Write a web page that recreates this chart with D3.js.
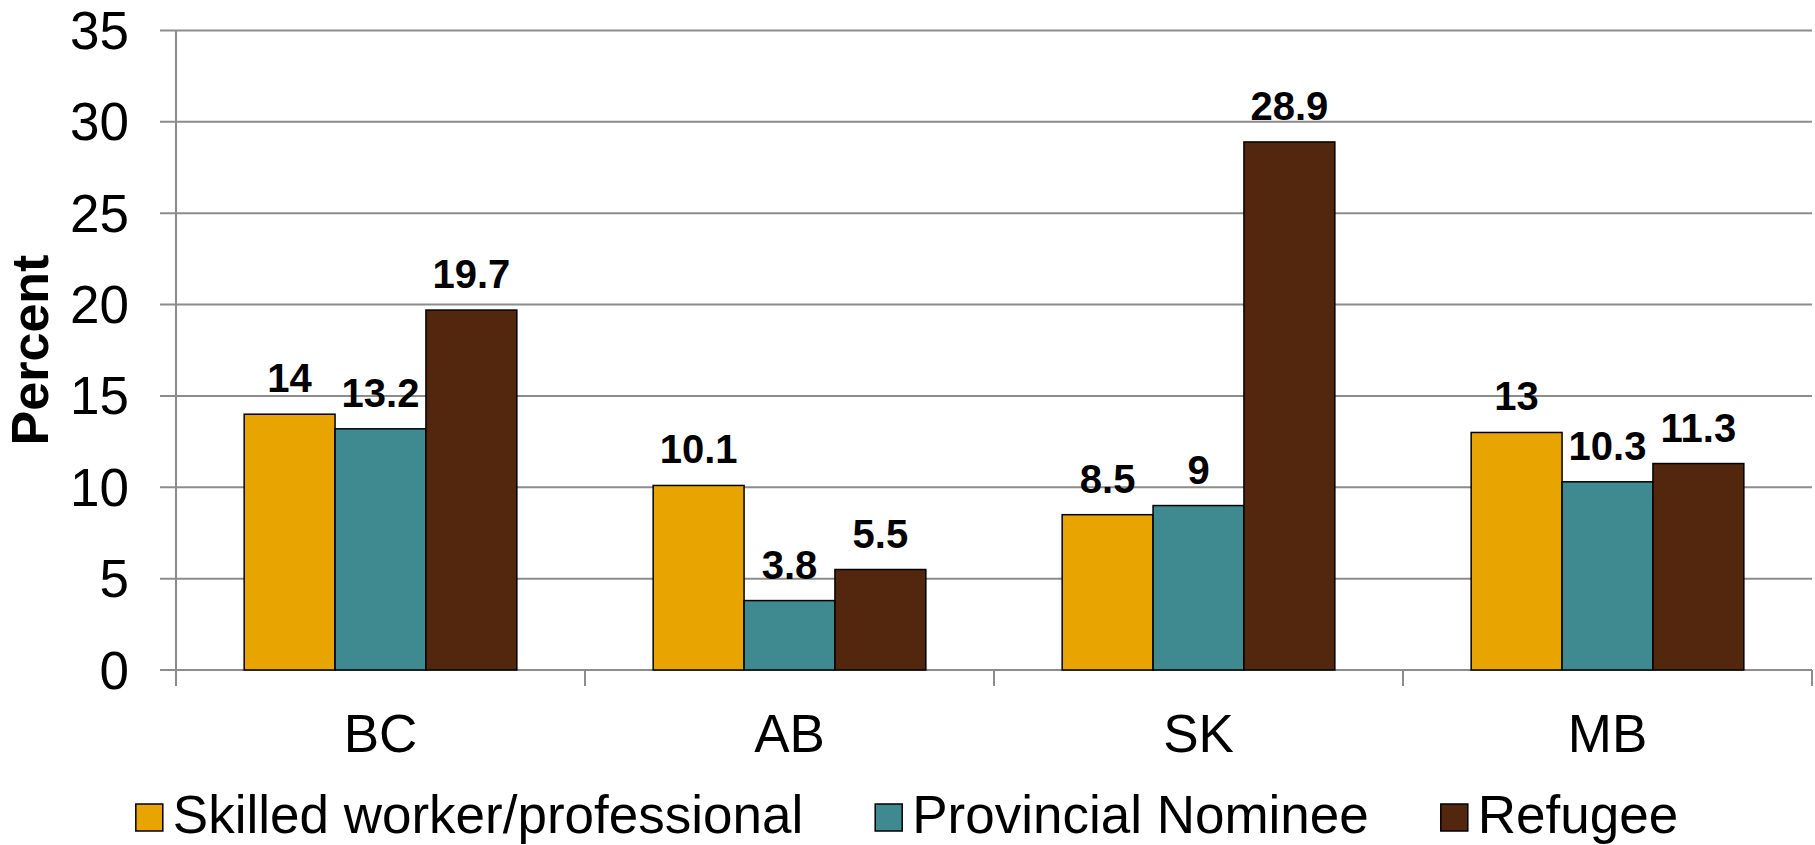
<!DOCTYPE html>
<html>
<head>
<meta charset="utf-8">
<title>Percent by province</title>
<script src="https://d3js.org/d3.v7.min.js"></script>
<style>
  body { margin: 0; background: #fff; }
  svg { display: block; font-family: "Liberation Sans", Arial, sans-serif; }
  .grid line { stroke: #8c8c8c; stroke-width: 2; }
  .bar { stroke: #000; stroke-width: 1.5; }
</style>
</head>
<body>
<script>
// data
var provinces = ["BC", "AB", "SK", "MB"];
var seriesNames = ["Skilled worker/professional", "Provincial Nominee", "Refugee"];
var skilled = [14, 10.1, 8.5, 13];
var nominee = [13.2, 3.8, 9, 10.3];
var refugee = [19.7, 5.5, 28.9, 11.3];
var yTicks = [0, 5, 10, 15, 20, 25, 30, 35];
var colors = ["#e8a400", "#3e8a90", "#52270e"];

var seriesValues = [skilled, nominee, refugee];

var W = 1815, H = 845;
var plotL = 176, plotR = 1812, plotT = 30.5, plotB = 670;

var svg = d3.select("body").append("svg")
  .attr("width", W)
  .attr("height", H);

var y = d3.scaleLinear().domain([0, 35]).range([plotB, plotT]);
var x = d3.scaleBand().domain(provinces).range([plotL, plotR]).paddingInner(0).paddingOuter(0);
var xs = d3.scaleBand().domain(seriesNames).range([0, x.bandwidth()]).paddingInner(0).paddingOuter(0.75);

// gridlines + left ticks
var grid = svg.append("g").attr("class", "grid");
grid.selectAll("line.h")
  .data(yTicks)
  .enter().append("line")
  .attr("class", "h")
  .attr("x1", plotL - 16)
  .attr("x2", plotR)
  .attr("y1", function(d) { return y(d); })
  .attr("y2", function(d) { return y(d); });

// y axis line
grid.append("line")
  .attr("x1", plotL).attr("x2", plotL)
  .attr("y1", plotT).attr("y2", plotB + 16);

// category separators below axis
var bounds = provinces.map(function(p) { return x(p); }).concat([plotR]);
grid.selectAll("line.v")
  .data(bounds.slice(1))
  .enter().append("line")
  .attr("class", "v")
  .attr("x1", function(d) { return d; })
  .attr("x2", function(d) { return d; })
  .attr("y1", plotB)
  .attr("y2", plotB + 16);

// y tick labels
svg.append("g").selectAll("text")
  .data(yTicks)
  .enter().append("text")
  .attr("x", 129)
  .attr("y", function(d) { return y(d); })
  .attr("dy", "0.35em")
  .attr("text-anchor", "end")
  .style("font-size", "53px")
  .text(function(d) { return d; });

// y title
svg.append("text")
  .attr("transform", "translate(48,350) rotate(-90)")
  .attr("text-anchor", "middle")
  .style("font-size", "52px")
  .style("font-weight", "bold")
  .text("Percent");

// bars
var rows = [];
provinces.forEach(function(p, i) {
  seriesNames.forEach(function(s, j) {
    rows.push({ prov: p, series: s, idx: j, value: seriesValues[j][i] });
  });
});

svg.append("g").selectAll("rect")
  .data(rows)
  .enter().append("rect")
  .attr("class", "bar")
  .attr("x", function(d) { return x(d.prov) + xs(d.series); })
  .attr("width", xs.bandwidth())
  .attr("y", function(d) { return y(d.value); })
  .attr("height", function(d) { return y(0) - y(d.value); })
  .attr("fill", function(d) { return colors[d.idx]; });

// value labels
svg.append("g").selectAll("text")
  .data(rows)
  .enter().append("text")
  .attr("x", function(d) { return x(d.prov) + xs(d.series) + xs.bandwidth() / 2; })
  .attr("y", function(d) { return y(d.value) - 22; })
  .attr("text-anchor", "middle")
  .style("font-size", "40px")
  .style("font-weight", "bold")
  .text(function(d) { return d.value; });

// category labels
svg.append("g").selectAll("text")
  .data(provinces)
  .enter().append("text")
  .attr("x", function(d) { return x(d) + x.bandwidth() / 2; })
  .attr("y", 752)
  .attr("text-anchor", "middle")
  .style("font-size", "53px")
  .text(function(d) { return d; });

// legend
var legend = svg.append("g");
var items = legend.selectAll("g")
  .data(seriesNames)
  .enter().append("g");
items.append("rect")
  .attr("width", 27).attr("height", 27)
  .attr("y", 804)
  .attr("fill", function(d, i) { return colors[i]; })
  .attr("stroke", "#000").attr("stroke-width", 1.5);
items.append("text")
  .attr("x", 37)
  .attr("y", 833)
  .style("font-size", "53px")
  .text(function(d) { return d; });

var offs = [], cur = 0;
items.each(function() {
  offs.push(cur);
  cur += this.getBBox().width + 72;
});
var total = cur - 72;
var startX = 907 - total / 2;
items.attr("transform", function(d, i) { return "translate(" + (startX + offs[i]) + ",0)"; });
</script>
</body>
</html>
